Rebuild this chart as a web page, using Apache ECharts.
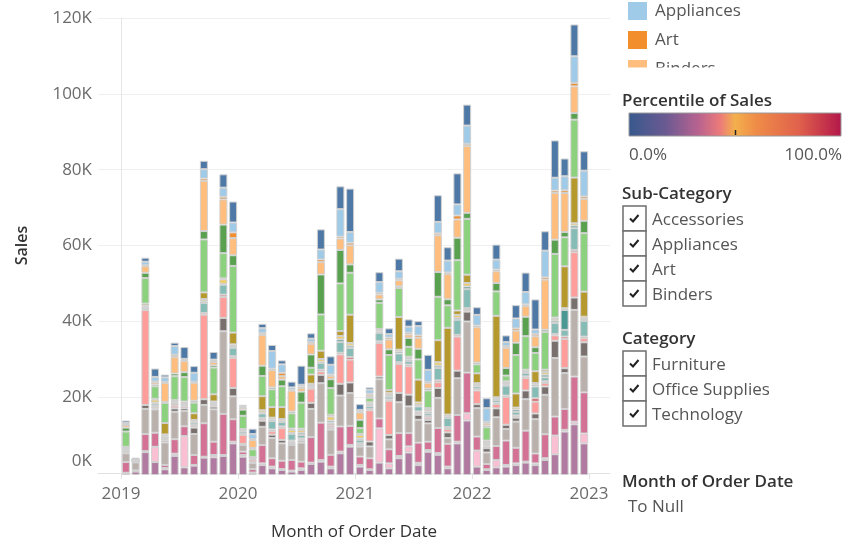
<!DOCTYPE html>
<html><head><meta charset="utf-8">
<script src="https://cdn.jsdelivr.net/npm/echarts@6/dist/echarts.min.js"></script>
<style>html,body{margin:0;padding:0;background:#fff}#c{width:843px;height:546px}</style>
</head><body><div id="c"></div>
<script>
const FONT = "'Open Sans', sans-serif";

// ---- categories / ticks ----
const years = [2019, 2020, 2021, 2022];
const monthNames = ['01','02','03','04','05','06','07','08','09','10','11','12'];
const monthCategories = [];
years.forEach(y => monthNames.forEach(m => monthCategories.push(y + '-' + m)));
const yearTickLabels = ['2019', '2020', '2021', '2022', '2023'];
const yearTickPositions = [0, 12, 24, 36, 48];

// ---- Sales (thousands) per sub-category, Jan 2019 .. Dec 2022 ----
const tables = [0.4,0.9,6.0,3.4,1.5,5.0,2.0,2.45,4.55,4.65,5.0,8.3,
  4.8,0.45,2.6,1.75,1.3,0.9,1.3,2.9,3.5,1.75,5.7,7.45,
  2.2,1.3,3.25,1.75,4.4,5.9,2.6,6.1,5.3,1.75,8.3,14.3,
  2.2,1.3,2.0,2.2,2.6,3.25,2.6,3.95,5.45,11.4,13.3,8.3];
const supplies = [0.2,0.1,0.25,4.0,0.35,0.6,8.2,0.2,0.25,0.6,0.25,0.45,
  0.45,0.2,0.45,0.45,0.25,0.25,0.45,0.35,0.45,0.45,0.45,0.45,
  0.45,0.2,9.0,1.3,0.6,1.6,0.6,0.45,0.45,0.45,0.45,1.9,
  4.2,0.2,1.9,0.45,0.45,0.25,0.45,0.45,4.9,0.45,0.7,2.6];
const storage = [2.8,0.2,4.5,3.7,0.8,3.8,2.6,2.6,8.8,3.5,10.8,5.9,
  0.9,0.9,4.8,2.2,2.2,2.8,1.75,6.7,9.8,3.1,6.6,5.0,
  2.2,2.9,2.6,3.7,6.0,3.5,5.3,2.2,6.6,6.0,7.0,10.7,
  3.7,1.4,3.7,6.4,4.1,8.15,2.6,6.3,5.0,5.5,11.85,10.8];
const phones = [2.3,2.1,6.6,6.1,5.9,7.2,4.0,5.5,4.8,8.5,21.7,6.0,
  1.75,1.6,4.8,5.3,4.55,3.95,5.0,7.4,10.35,6.6,8.1,8.6,
  2.6,3.1,10.3,2.6,8.1,7.0,6.0,4.8,7.9,1.5,9.65,13.4,
  7.45,3.0,7.55,3.0,6.85,8.25,9.0,10.35,15.35,9.4,17.5,9.4];
const paper = [0.3,0.1,1.05,0.25,0.45,0.9,0.7,1.7,1.5,0.7,3.5,2.2,
  0.25,0.2,1.6,0.9,0.9,0.45,0.5,1.6,2.2,0.45,3.1,2.8,
  0.45,1.3,0.7,1.15,2.45,3.1,1.3,0.9,2.6,1.5,2.0,2.6,
  1.05,1.15,2.35,1.15,1.05,2.3,1.5,2.2,4.55,1.3,3.25,3.75];
const machines = [0.4,0.1,24.9,0.45,0.45,0.7,0.5,0.45,22.2,0.35,5.5,7.9,
  2.4,0.7,0.5,0.9,3.1,0.45,0.35,3.7,0.9,0.6,7.7,6.0,
  0.25,8.2,8.8,9.0,7.6,7.45,0.45,0.6,1.5,0.9,8.95,0.45,
  3.6,0.45,1.15,7.3,0.25,3.25,3.1,0.9,1.4,7.7,11.9,1.05];
const labels = [0.2,0.1,0.25,0.25,0.25,0.5,0.25,0.25,0.45,0.25,0.6,0.45,
  0.25,0.2,0.25,0.45,0.45,0.25,0.25,0.35,0.45,0.5,0.45,0.7,
  0.2,0.35,0.45,0.35,0.45,0.45,0.45,0.45,0.5,0.5,0.45,0.45,
  0.35,0.25,0.35,0.35,0.35,0.45,0.9,0.45,0.35,0.6,0.6,0.45];
const furnishings = [0.3,0.1,0.45,0.6,0.45,0.35,0.25,0.6,2.6,0.25,2.6,2.2,
  0.6,0.2,1.15,2.2,1.15,1.75,0.9,0.35,1.75,0.35,2.8,2.35,
  0.9,0.7,2.2,0.7,2.3,0.9,1.3,0.7,3.25,2.35,3.95,5.0,
  0.7,0.35,0.7,2.6,0.95,0.9,3.1,1.05,2.9,1.75,5.7,4.1];
const fasteners = [0.2,0.05,0.25,0.25,0.25,0.2,0.2,0.25,0.45,0.25,0.25,0.45,
  0.25,0.1,0.25,0.45,0.35,0.25,0.6,0.25,0.35,0.5,0.7,0.6,
  0.35,0.35,0.35,0.45,0.5,0.45,0.35,0.45,0.6,0.45,0.5,0.7,
  0.35,0.25,0.45,0.35,0.6,0.25,0.45,0.7,0.6,5.25,0.7,0.5];
const envelopes = [0.1,0.05,0.25,0.8,0.25,0.2,0.25,0.45,0.6,0.25,1.2,0.45,
  0.2,0.1,0.6,0.45,0.45,0.8,0.7,0.35,0.7,1.05,0.9,0.7,
  0.95,0.35,0.35,0.6,0.5,0.35,0.7,0.45,0.9,0.45,0.8,0.9,
  0.5,0.35,0.25,0.35,0.5,0.25,0.45,0.7,0.5,0.45,0.6,0.6];
const copiers = [0.2,0.05,0.5,0.2,3.0,0.2,0.35,1.75,1.75,1.9,0.25,3.1,
  0.2,0.1,3.7,2.8,3.15,0.35,0.35,2.45,2.2,0.45,1.3,7.45,
  0.25,0.35,0.35,0.7,8.6,0.35,6.0,0.45,5.8,22.8,1.15,2.2,
  2.6,0.35,21.4,0.45,3.7,0.35,3.1,0.6,0.35,11.0,12.0,6.6];
const chairs = [4.0,0.05,6.7,3.3,5.3,6.3,6.4,2.8,13.9,7.0,6.6,17.5,
  3.5,2.0,5.3,4.65,5.45,4.0,6.85,1.75,9.5,7.0,12.5,11.0,
  1.5,1.15,6.85,9.2,7.6,2.6,5.3,4.65,11.4,5.9,13.2,14.65,
  2.35,3.5,6.4,1.5,10.1,8.8,4.8,9.9,16.7,7.6,15.2,15.35];
const bookcases = [1.05,0.05,1.4,0.45,0.25,0.7,1.3,0.5,2.2,0.6,7.5,2.8,
  1.6,0.35,2.7,0.5,1.75,0.45,2.9,3.5,10.5,2.35,8.8,2.2,
  2.2,0.25,0.9,1.5,0.45,2.35,2.8,0.5,6.5,1.6,5.9,1.6,
  0.45,0.45,2.2,2.0,3.25,5.1,1.5,0.6,3.75,1.4,1.75,3.25];
const binders = [0.7,0.05,1.75,0.6,5.0,4.3,2.9,4.7,13.2,0.9,6.6,4.5,
  0.5,2.1,8.1,4.55,0.9,5.5,0.9,2.8,3.25,0.9,3.0,5.0,
  1.9,0.6,1.3,2.6,1.6,0.9,2.9,1.4,9.65,6.6,4.8,17.5,
  9.3,0.6,3.1,5.3,3.15,2.8,2.9,13.15,12.3,10.25,7.0,5.8];
const art = [0.2,0.05,0.25,0.2,0.25,0.6,0.35,0.25,0.6,0.25,0.7,1.5,
  0.25,0.25,0.45,0.35,0.9,0.25,0.45,0.45,0.7,0.35,0.5,0.7,
  0.25,0.25,0.45,0.5,0.35,0.45,0.6,0.35,0.5,0.45,1.05,0.6,
  0.45,0.35,0.45,0.45,0.6,0.45,0.6,0.6,0.6,0.7,0.9,0.6];
const appliances = [0.35,0.05,0.9,1.2,1.2,2.3,0.25,2.4,2.45,0.35,2.4,2.6,
  0.25,1.3,1.3,4.65,2.2,0.6,0.45,0.9,2.6,2.55,7.2,2.8,
  0.45,1.05,2.8,0.9,2.0,1.6,2.45,3.15,3.0,3.1,2.9,4.8,
  2.8,3.6,2.6,1.05,2.6,3.25,1.15,7.0,3.35,3.7,7.0,6.75];
const accessories = [0.6,0.45,1.05,2.2,0.7,0.9,3.1,1.75,2.2,2.0,3.5,5.5,
  0.25,1.4,1.15,1.6,1.05,1.5,5.0,1.4,5.3,2.2,6.0,11.4,
  1.5,0.6,2.6,1.5,3.3,1.9,1.3,3.95,7.0,3.5,8.15,5.5,
  2.0,2.6,3.95,1.75,3.5,5.1,7.9,5.1,9.8,4.65,8.35,5.1];

// stacking order bottom -> top
const stackOrder = [
  ['Tables', tables, '#b07aa1'], ['Supplies', supplies, '#fabfd2'], ['Storage', storage, '#d37295'],
  ['Phones', phones, '#bab0ac'], ['Paper', paper, '#79706e'], ['Machines', machines, '#ff9d9a'],
  ['Labels', labels, '#e15759'], ['Furnishings', furnishings, '#86bcb6'], ['Fasteners', fasteners, '#499894'],
  ['Envelopes', envelopes, '#f1ce63'], ['Copiers', copiers, '#b6992d'], ['Chairs', chairs, '#8cd17d'],
  ['Bookcases', bookcases, '#59a14f'], ['Binders', binders, '#ffbe7d'], ['Art', art, '#f28e2b'],
  ['Appliances', appliances, '#a0cbe8'], ['Accessories', accessories, '#4e79a7']
];
const colorOf = {};
stackOrder.forEach(s => colorOf[s[0]] = s[2]);

const legendScrolled = ['Appliances', 'Art', 'Binders'];
const subCategoryFilter = ['Accessories', 'Appliances', 'Art', 'Binders'];
const categoryFilter = ['Furniture', 'Office Supplies', 'Technology'];

const chart = echarts.init(document.getElementById('c'), null, {renderer: 'canvas'});

const TXT = '#555';
const TITLE = '#333';
const graphics = [];
// scrolled colour legend
legendScrolled.forEach((name, i) => {
  const yc = 11 + i * 29;
  graphics.push({type: 'rect', shape: {x: 628, y: yc - 9, width: 19, height: 18}, style: {fill: colorOf[name]}, z: 10});
  graphics.push({type: 'text', x: 655, y: yc, style: {text: name, fill: TXT, font: '17px ' + FONT, textVerticalAlign: 'middle'}, z: 10});
});
graphics.push({type: 'rect', shape: {x: 615, y: 67.5, width: 228, height: 16}, style: {fill: '#fff'}, z: 11});
// colour ramp
graphics.push({type: 'text', x: 622, y: 101, style: {text: 'Percentile of Sales', fill: TITLE, font: '600 17px ' + FONT, textVerticalAlign: 'middle'}, z: 10});
graphics.push({type: 'rect', shape: {x: 629, y: 113, width: 212, height: 23}, z: 10,
  style: {stroke: '#9a9a9a', lineWidth: 1, fill: new echarts.graphic.LinearGradient(0, 0, 1, 0, [
    {offset: 0, color: '#36598d'}, {offset: 0.18, color: '#6d5a92'}, {offset: 0.33, color: '#b9638f'},
    {offset: 0.43, color: '#ec7a7a'}, {offset: 0.5, color: '#f3b04c'}, {offset: 0.6, color: '#ef8c48'},
    {offset: 0.8, color: '#e0614c'}, {offset: 1, color: '#b3174a'}])}});
graphics.push({type: 'line', shape: {x1: 735.5, y1: 130, x2: 735.5, y2: 135}, style: {stroke: '#222', lineWidth: 1.5}, z: 12});
graphics.push({type: 'text', x: 629, y: 155, style: {text: '0.0%', fill: TXT, font: '17px ' + FONT, textVerticalAlign: 'middle'}, z: 10});
graphics.push({type: 'text', x: 842, y: 155, style: {text: '100.0%', fill: TXT, font: '17px ' + FONT, textAlign: 'right', textVerticalAlign: 'middle'}, z: 10});
// checkbox lists
function checkList(title, titleY, items, firstY) {
  graphics.push({type: 'text', x: 622, y: titleY, style: {text: title, fill: TITLE, font: '600 17px ' + FONT, textVerticalAlign: 'middle'}, z: 10});
  items.forEach((name, i) => {
    const top = firstY + i * 25;
    const yc = top + 12.5;
    graphics.push({type: 'rect', shape: {x: 623, y: top, width: 23, height: 25}, style: {fill: '#fff', stroke: '#6e6e6e', lineWidth: 1.5}, z: 10});
    graphics.push({type: 'polyline', shape: {points: [[630, yc], [633, yc + 3], [638.5, yc - 3.5]]}, style: {stroke: '#222', lineWidth: 2, fill: null}, z: 11});
    graphics.push({type: 'text', x: 652, y: yc + 1.5, style: {text: name, fill: TXT, font: '17px ' + FONT, textVerticalAlign: 'middle'}, z: 10});
  });
}
checkList('Sub-Category', 194, subCategoryFilter, 206);
checkList('Category', 339, categoryFilter, 351);
graphics.push({type: 'text', x: 622, y: 482, style: {text: 'Month of Order Date', fill: TITLE, font: '600 17px ' + FONT, textVerticalAlign: 'middle'}, z: 10});
graphics.push({type: 'text', x: 628, y: 507, style: {text: 'To Null', fill: TXT, font: '17px ' + FONT, textVerticalAlign: 'middle'}, z: 10});

const option = {
  animation: false,
  backgroundColor: '#fff',
  grid: [
    {left: 121, right: 254, top: 18, bottom: 71},
    {left: 98, right: 233, top: 18, bottom: 71}
  ],
  xAxis: [
    {gridIndex: 0, type: 'category', data: monthCategories, show: false},
    {gridIndex: 1, type: 'value', min: -2.36, max: 50.15,
      name: 'Month of Order Date', nameLocation: 'middle', nameGap: 51,
      nameTextStyle: {color: TITLE, fontSize: 17, fontFamily: FONT, fontWeight: 500},
      axisLine: {show: true, lineStyle: {color: '#e2e2e2'}},
      axisTick: {show: true, customValues: yearTickPositions, length: 6, lineStyle: {color: '#e2e2e2'}},
      splitLine: {show: false},
      axisLabel: {customValues: yearTickPositions, margin: 13, color: '#6b6b6b', fontSize: 17, fontFamily: FONT,
        formatter: v => yearTickLabels[Math.round(v / 12)]}}
  ],
  yAxis: [
    {gridIndex: 0, type: 'value', min: 0, max: 120, show: false},
    {gridIndex: 1, type: 'value', min: 0, max: 120, interval: 20,
      name: 'Sales', nameLocation: 'middle', nameGap: 68,
      nameTextStyle: {color: TITLE, fontSize: 16, fontFamily: FONT, fontWeight: 600},
      axisLine: {show: true, lineStyle: {color: '#e6e6e6'}},
      axisTick: {show: false},
      splitLine: {show: true, lineStyle: {color: '#efefef'}},
      axisLabel: {margin: 6, color: '#6b6b6b', fontSize: 17, fontFamily: FONT,
        formatter: v => v === 0 ? '{z|0K}' : v + 'K',
        rich: {z: {padding: [0, 0, 24, 0], color: '#6b6b6b', fontSize: 17, fontFamily: FONT}}}}
  ],
  series: stackOrder.map(([name, values, color]) => ({
    name, type: 'bar', stack: 'sales', xAxisIndex: 0, yAxisIndex: 0,
    barWidth: 8, data: values,
    itemStyle: {color, borderColor: '#d0d0d0', borderWidth: 1}
  })),
  graphic: graphics
};
chart.setOption(option);
</script></body></html>
